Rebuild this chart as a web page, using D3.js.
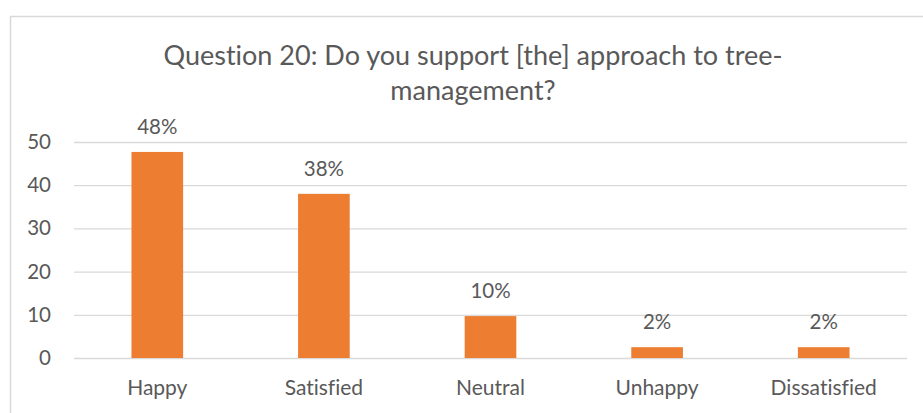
<!DOCTYPE html>
<html>
<head>
<meta charset="utf-8">
<script src="https://cdn.jsdelivr.net/npm/d3@7"></script>
<style>
  body { margin: 0; background: #fff; }
  svg text { font-family: Lato, "Open Sans", sans-serif; fill: #595959; font-variant-ligatures: none; }
</style>
</head>
<body>
<svg id="chart" width="923" height="413"></svg>
<script>
// data
var categories = ["Happy", "Satisfied", "Neutral", "Unhappy", "Dissatisfied"];
var values = [47.7, 38, 9.7, 2.5, 2.5];
var valueLabels = ["48%", "38%", "10%", "2%", "2%"];
var yTicks = [0, 10, 20, 30, 40, 50];
var titleLines = ["Question 20: Do you support [the] approach to tree-", "management?"];

var svg = d3.select("#chart");

// chart border (runs off the right and bottom edge like the original)
svg.append("rect")
    .attr("x", 10.5)
    .attr("y", 16.5)
    .attr("width", 926)
    .attr("height", 410)
    .attr("fill", "none")
    .attr("stroke", "#d9d9d9")
    .attr("stroke-width", 1.5);

var margin = {left: 74, right: 16, top: 142, bottom: 55};
var width = 923 - margin.left - margin.right;
var yBottom = 358;

var x = d3.scaleBand()
    .domain(categories)
    .range([margin.left, margin.left + width])
    .paddingInner(0.69)
    .paddingOuter(0.345);

var y = d3.scaleLinear()
    .domain([0, 50])
    .range([yBottom, margin.top]);

// gridlines + y labels
var yAxis = svg.append("g")
    .attr("transform", "translate(" + margin.left + ",0)")
    .call(d3.axisLeft(y).tickValues(yTicks).tickSize(-width).tickPadding(23));
yAxis.select(".domain").remove();
yAxis.selectAll("line").attr("stroke", "#d9d9d9").attr("stroke-width", 1.3);
yAxis.selectAll("text")
    .attr("font-size", 20.5)
    .style("font-family", "Lato, sans-serif")
    .attr("fill", "#595959");

// bars
svg.selectAll(".bar")
    .data(values)
    .enter()
    .append("rect")
    .attr("class", "bar")
    .attr("x", (d, i) => x(categories[i]))
    .attr("width", x.bandwidth())
    .attr("y", d => y(d))
    .attr("height", d => y(0) - y(d))
    .attr("fill", "#ed7d31");

// value labels
svg.selectAll(".vlabel")
    .data(values)
    .enter()
    .append("text")
    .attr("class", "vlabel")
    .attr("x", (d, i) => x(categories[i]) + x.bandwidth() / 2)
    .attr("y", d => y(d) - 18)
    .attr("text-anchor", "middle")
    .attr("font-size", 20.5)
    .text((d, i) => valueLabels[i]);

// category axis
var xAxis = svg.append("g")
    .attr("transform", "translate(0," + yBottom + ")")
    .call(d3.axisBottom(x).tickSize(0).tickPadding(22));
xAxis.select(".domain").remove();
xAxis.selectAll("text")
    .attr("font-size", 21)
    .style("font-family", "Lato, sans-serif")
    .attr("fill", "#595959");

// title
svg.append("g")
    .selectAll("text")
    .data(titleLines)
    .enter()
    .append("text")
    .attr("x", 473)
    .attr("y", (d, i) => 65 + i * 35)
    .attr("text-anchor", "middle")
    .attr("font-size", 27)
    .text(d => d);
</script>
</body>
</html>
